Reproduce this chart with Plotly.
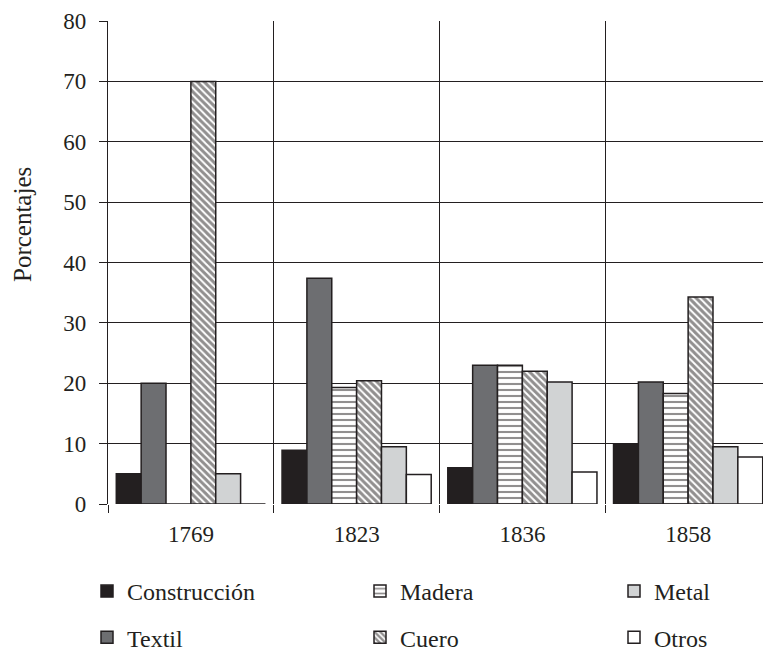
import plotly.graph_objects as go

years = ["1769", "1823", "1836", "1858"]
series_names = ["Construcción", "Textil", "Madera", "Cuero", "Metal", "Otros"]
construccion = [5.0, 8.9, 6.0, 9.9]
textil = [20.0, 37.4, 23.0, 20.2]
madera = [0.0, 19.3, 23.0, 18.3]
cuero = [70.0, 20.4, 22.0, 34.3]
metal = [5.0, 9.5, 20.2, 9.5]
otros = [0.0, 4.9, 5.3, 7.8]
y_ticks = [0, 10, 20, 30, 40, 50, 60, 70, 80]

values = [construccion, textil, madera, cuero, metal, otros]
FONT = "Liberation Serif"
FS = 23
INK = "#231f20"

styles = {
    "Construcción": dict(color=INK),
    "Textil": dict(color="#6d6e71"),
    "Madera": dict(color="white", pattern=dict(shape="-", fgcolor=INK, bgcolor="white", size=6, solidity=0.35)),
    "Cuero": dict(color="white", pattern=dict(shape="\\", fgcolor=INK, bgcolor="white", size=5, solidity=0.6)),
    "Metal": dict(color="#d1d3d4"),
    "Otros": dict(color="white"),
}
legend_of = {"Construcción": "legend", "Textil": "legend",
             "Madera": "legend2", "Cuero": "legend2",
             "Metal": "legend3", "Otros": "legend3"}

fig = go.Figure()
for name, vals in zip(series_names, values):
    m = dict(styles[name])
    m["line"] = dict(color=INK, width=1.5)
    fig.add_trace(go.Bar(x=years, y=vals, name=name, marker=m,
                         legend=legend_of[name], legendgroup=name))

# page body has an 8px margin: positions below are figure coordinates
W, H = 763, 643
L, R, T, B = 100, 0, 13, 147
pw = W - L - R
ph = H - T - B

def px_x(p):
    return (p - L) / pw

def px_y(p):
    return (H - B - p) / ph

legend_common = dict(font=dict(family=FONT, size=24, color=INK), bgcolor="rgba(0,0,0,0)",
                     tracegroupgap=12, yanchor="top", xanchor="left", orientation="v")

fig.update_layout(
    width=W, height=H,
    margin=dict(l=L, r=R, t=T, b=B, autoexpand=False),
    paper_bgcolor="white", plot_bgcolor="white",
    barmode="group", bargap=0.1, bargroupgap=0,
    font=dict(family=FONT, size=FS, color=INK),
    legend=dict(x=px_x(79), y=px_y(561), **legend_common),
    legend2=dict(x=px_x(352), y=px_y(561), **legend_common),
    legend3=dict(x=px_x(606), y=px_y(561), **legend_common),
    xaxis=dict(type="category", tickson="boundaries", ticks="outside", ticklen=8,
               tickcolor=INK, tickwidth=1.3, showgrid=True, gridcolor=INK, gridwidth=1.3,
               showline=False, zeroline=False, ticklabelstandoff=14,
               tickfont=dict(family=FONT, size=FS, color=INK)),
    yaxis=dict(range=[0, 80], tickvals=y_ticks, ticks="outside", ticklen=8, tickcolor=INK,
               tickwidth=1.3, showgrid=True, gridcolor=INK, gridwidth=1.3,
               showline=True, linecolor=INK, linewidth=1.3, zeroline=False,
               ticklabelstandoff=8, tickfont=dict(family=FONT, size=FS, color=INK)),
    annotations=[dict(text="Porcentajes", xref="paper", yref="paper",
                      x=px_x(14), y=px_y(216), textangle=-90, showarrow=False,
                      font=dict(family=FONT, size=25, color=INK),
                      xanchor="center", yanchor="middle")],
)

fig.write_html("out.html")
